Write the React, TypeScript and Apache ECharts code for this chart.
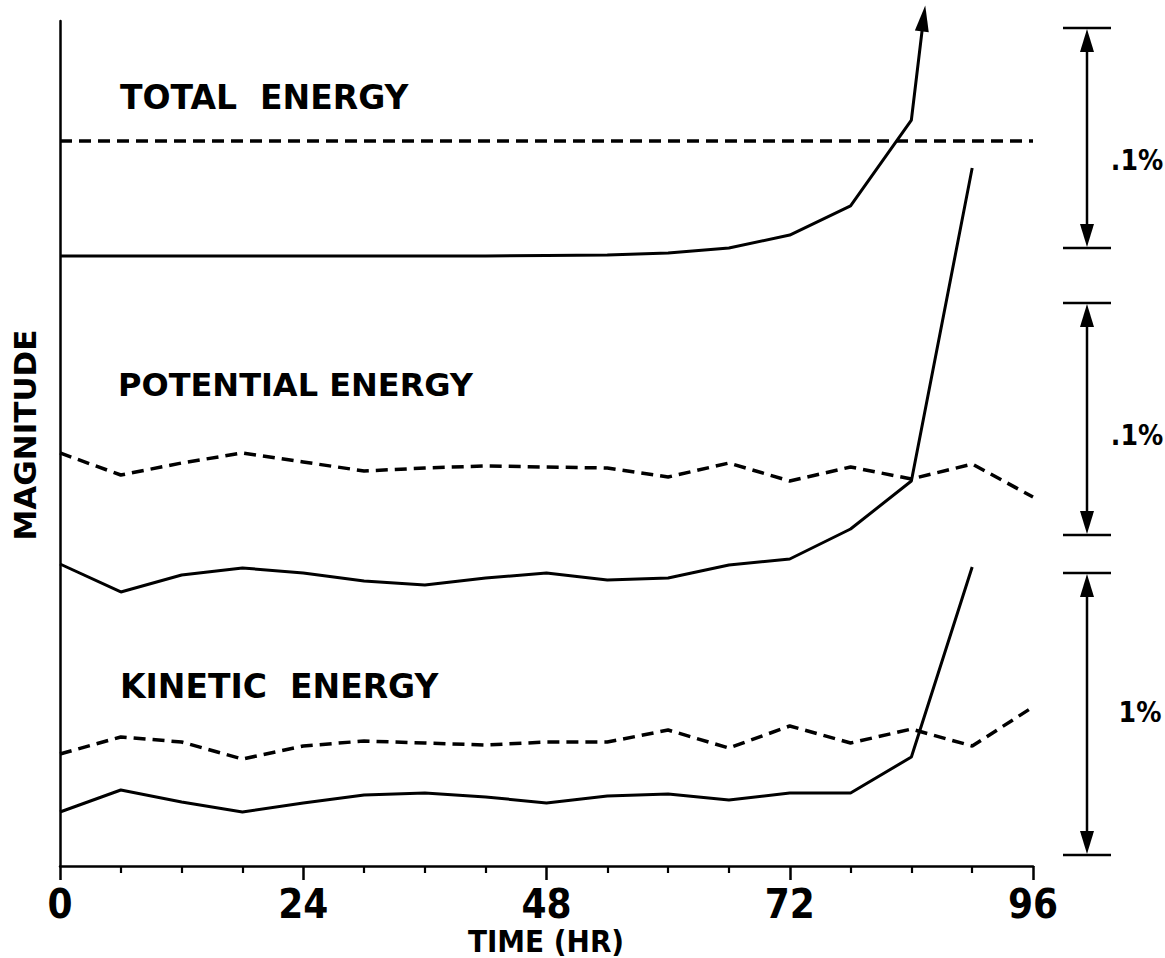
import React, { useEffect, useRef } from "react";
import * as echarts from "echarts";

// ---- data (magnitude in arbitrary units, time in hours) ----
const HOURS = [0, 6, 12, 18, 24, 30, 36, 42, 48, 54, 60, 66, 72, 78, 84, 90, 96];
const X_TICKS = [0, 24, 48, 72, 96];

const TOTAL_DASHED = [85.8, 85.8, 85.8, 85.8, 85.8, 85.8, 85.8, 85.8, 85.8, 85.8, 85.8, 85.8, 85.8, 85.8, 85.8, 85.8, 85.8];
const TOTAL_SOLID = [72.19, 72.19, 72.19, 72.19, 72.19, 72.19, 72.19, 72.19, 72.25, 72.31, 72.54, 73.14, 74.67, 78.11, 88.28];
const TOTAL_ARROW_TIP = [85.2, 100.3];

const POTENTIAL_DASHED = [48.88, 46.27, 47.69, 48.88, 47.81, 46.75, 47.1, 47.34, 47.22, 47.1, 46.04, 47.69, 45.56, 47.22, 45.8, 47.57, 43.67];
const POTENTIAL_SOLID = [35.74, 32.43, 34.44, 35.27, 34.67, 33.73, 33.25, 34.08, 34.67, 33.85, 34.08, 35.62, 36.33, 39.88, 45.56, 82.6];

const KINETIC_DASHED = [13.25, 15.27, 14.67, 12.66, 14.2, 14.79, 14.56, 14.32, 14.67, 14.67, 16.09, 13.96, 16.57, 14.56, 16.21, 14.2, 18.82];
const KINETIC_SOLID = [6.39, 8.99, 7.57, 6.39, 7.46, 8.4, 8.64, 8.17, 7.46, 8.28, 8.52, 7.81, 8.64, 8.64, 12.9, 35.38];

const CURVE_LABELS = ["TOTAL  ENERGY", "POTENTIAL ENERGY", "KINETIC  ENERGY"];
const SCALE_LABELS = [".1%", ".1%", "1%"];
const X_TITLE = "TIME (HR)";
const Y_TITLE = "MAGNITUDE";

// ---- layout ----
const W = 1165;
const H = 958;
const LABEL_POS = [
  [120, 97, 33],
  [118, 385, 32],
  [120, 686, 33],
];
const BRACKETS = [
  [28, 248],
  [303, 535],
  [573, 855],
];
const BRACKET_X = 1087;
const BRACKET_LABEL_POS = [
  [1137, 160],
  [1137, 435],
  [1140, 712],
];

const FONT = '"DejaVu Sans", "Liberation Sans", sans-serif';
const COND = '"DejaVu Sans Condensed", "Liberation Sans Narrow", "DejaVu Sans", sans-serif';

const pair = (ys: number[]) => ys.map((y, i) => [HOURS[i], y]);

export default function App() {
  const ref = useRef<HTMLDivElement>(null);

  useEffect(() => {
    if (!ref.current) return;
    const chart = echarts.init(ref.current, undefined, { renderer: "svg" });

    const solid = { color: "#000", width: 3, type: "solid" as const };
    const dashed = { color: "#000", width: 3.5, type: [12, 7] as any };

    const graphics: any[] = [];
    CURVE_LABELS.forEach((t, i) => {
      graphics.push({
        type: "text",
        style: {
          text: t,
          x: LABEL_POS[i][0],
          y: LABEL_POS[i][1],
          fill: "#000",
          fontSize: LABEL_POS[i][2],
          fontWeight: "bold",
          fontFamily: FONT,
          align: "left",
          verticalAlign: "middle",
        },
      });
    });
    graphics.push({
      type: "text",
      x: 25,
      y: 435,
      rotation: Math.PI / 2,
      style: {
        text: Y_TITLE,
        x: 0,
        y: 0,
        fill: "#000",
        fontSize: 31,
        fontWeight: "bold",
        fontFamily: FONT,
        align: "center",
        verticalAlign: "middle",
      },
    });
    graphics.push({
      type: "text",
      style: {
        text: X_TITLE,
        x: 546,
        y: 941,
        fill: "#000",
        fontSize: 31,
        lineHeight: 28,
        fontWeight: "bold",
        fontFamily: COND,
        align: "center",
        verticalAlign: "middle",
      },
    });
    BRACKETS.forEach(([top, bot], i) => {
      const x = BRACKET_X;
      graphics.push(
        { type: "line", shape: { x1: 1063, y1: top, x2: 1111, y2: top }, style: { stroke: "#000", lineWidth: 2.5 } },
        { type: "line", shape: { x1: 1063, y1: bot, x2: 1111, y2: bot }, style: { stroke: "#000", lineWidth: 2.5 } },
        { type: "line", shape: { x1: x, y1: top + 10, x2: x, y2: bot - 10 }, style: { stroke: "#000", lineWidth: 2.5 } },
        { type: "polygon", shape: { points: [[x, top + 1], [x - 7, top + 24], [x + 7, top + 24]] }, style: { fill: "#000" } },
        { type: "polygon", shape: { points: [[x, bot - 1], [x - 7, bot - 24], [x + 7, bot - 24]] }, style: { fill: "#000" } },
        {
          type: "text",
          style: {
            text: SCALE_LABELS[i],
            x: BRACKET_LABEL_POS[i][0],
            y: BRACKET_LABEL_POS[i][1],
            fill: "#000",
            fontSize: 28,
            fontWeight: "bold",
            fontFamily: COND,
            align: "center",
            verticalAlign: "middle",
          },
        }
      );
    });

    const totalSolidData: any[] = pair(TOTAL_SOLID);
    totalSolidData.push({
      value: TOTAL_ARROW_TIP,
      symbol: "triangle",
      symbolSize: [14, 26],
      symbolRotate: -7.6,
      itemStyle: { color: "#000" },
    });

    chart.setOption({
      animation: false,
      backgroundColor: "#fff",
      grid: { left: 60, right: W - 1033, top: 21, bottom: H - 866, outerBoundsMode: "none", containLabel: false },
      xAxis: {
        type: "value",
        min: 0,
        max: 96,
        interval: 24,
        axisLine: { show: true, lineStyle: { color: "#000", width: 2.5 } },
        axisTick: { show: true, length: 14, lineStyle: { color: "#000", width: 2.5 } },
        minorTick: { show: true, splitNumber: 4, length: 7, lineStyle: { color: "#000", width: 2.2 } },
        splitLine: { show: false },
        minorSplitLine: { show: false },
        axisLabel: {
          color: "#000",
          fontSize: 40,
          lineHeight: 32,
          fontWeight: "bold",
          fontFamily: COND,
          margin: 22,
          formatter: (v: number) => (X_TICKS.includes(v) ? String(v) : ""),
        },
      },
      yAxis: {
        type: "value",
        min: 0,
        max: 100,
        axisLine: { show: true, lineStyle: { color: "#000", width: 2.5 } },
        axisTick: { show: false },
        axisLabel: { show: false },
        splitLine: { show: false },
      },
      series: [
        { type: "line", data: pair(TOTAL_DASHED), symbol: "none", lineStyle: dashed, clip: false },
        { type: "line", data: totalSolidData, symbol: "none", showSymbol: true, lineStyle: solid, clip: false },
        { type: "line", data: pair(POTENTIAL_DASHED), symbol: "none", lineStyle: dashed },
        { type: "line", data: pair(POTENTIAL_SOLID), symbol: "none", lineStyle: solid },
        { type: "line", data: pair(KINETIC_DASHED), symbol: "none", lineStyle: dashed },
        { type: "line", data: pair(KINETIC_SOLID), symbol: "none", lineStyle: solid },
      ],
      graphic: graphics,
    });

    return () => chart.dispose();
  }, []);

  return <div ref={ref} style={{ position: "fixed", left: 0, top: 0, width: W, height: H, background: "#fff" }} />;
}
